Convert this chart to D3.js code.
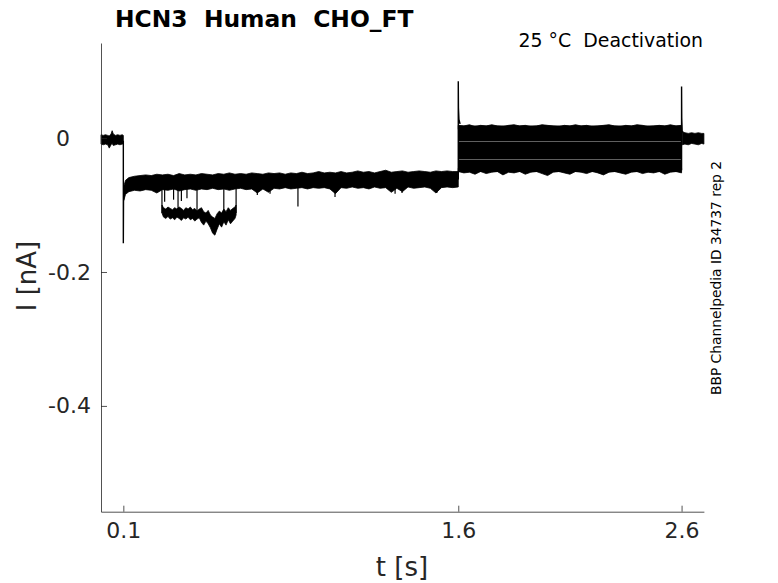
<!DOCTYPE html>
<html>
<head>
<meta charset="utf-8">
<script src="https://cdn.jsdelivr.net/npm/d3@7"></script>
<style>
  body { margin: 0; background: #fff; }
  text { font-family: "DejaVu Sans", sans-serif; white-space: pre; }
</style>
</head>
<body>
<div id="chart"></div>
<script>
var w = 778, h = 583;

// axis ticks
var xTicks = [0.1, 1.6, 2.6];
var yTicks = [0, -0.2, -0.4];
var yTickLabels = ["0   ", "-0.2", "-0.4"];

// holding level before the step (t, min, max in nA)
var baseT  = [0, 0.01, 0.02, 0.03, 0.037, 0.045, 0.05, 0.055, 0.065, 0.075, 0.085, 0.095, 0.1];
var baseHi = [0.005, 0.004, 0.005, 0.004, 0.003, 0.006, 0.011, 0.006, 0.004, 0.005, 0.004, 0.005, 0.004];
var baseLo = [-0.009, -0.010, -0.009, -0.010, -0.015, -0.010, -0.008, -0.011, -0.010, -0.009, -0.010, -0.009, -0.009];

// activating step, all sweeps overlap (envelope)
var stepT = [0.102, 0.11, 0.125, 0.15, 0.175, 0.2, 0.225, 0.25, 0.275, 0.3,
             0.325, 0.35, 0.375, 0.4, 0.425, 0.45, 0.475, 0.5, 0.525, 0.55,
             0.575, 0.6, 0.625, 0.65, 0.675, 0.7, 0.725, 0.75, 0.775, 0.8,
             0.825, 0.85, 0.875, 0.9, 0.925, 0.95, 0.975, 1.0, 1.025, 1.05,
             1.075, 1.1, 1.125, 1.15, 1.175, 1.2, 1.225, 1.25, 1.275, 1.3,
             1.325, 1.35, 1.375, 1.4, 1.425, 1.45, 1.475, 1.5, 1.525, 1.55,
             1.575, 1.6];
var stepHi = [-0.072, -0.063, -0.059, -0.057, -0.056, -0.055, -0.056, -0.054, -0.055, -0.054,
              -0.056, -0.053, -0.055, -0.054, -0.055, -0.053, -0.054, -0.055, -0.053, -0.054,
              -0.052, -0.054, -0.053, -0.054, -0.052, -0.053, -0.054, -0.052, -0.053, -0.052,
              -0.054, -0.052, -0.053, -0.051, -0.053, -0.052, -0.050, -0.052, -0.051, -0.052,
              -0.050, -0.052, -0.051, -0.049, -0.051, -0.050, -0.052, -0.050, -0.048, -0.051,
              -0.050, -0.049, -0.051, -0.050, -0.049, -0.050, -0.051, -0.049, -0.050, -0.049,
              -0.050, -0.050];
var stepLo = [-0.093, -0.084, -0.080, -0.078, -0.079, -0.077, -0.078, -0.082, -0.077, -0.078,
              -0.076, -0.079, -0.077, -0.076, -0.078, -0.076, -0.077, -0.075, -0.077, -0.076,
              -0.078, -0.076, -0.075, -0.077, -0.076, -0.082, -0.076, -0.081, -0.075, -0.076,
              -0.074, -0.076, -0.075, -0.074, -0.076, -0.074, -0.075, -0.074, -0.076, -0.083,
              -0.074, -0.075, -0.073, -0.075, -0.074, -0.076, -0.073, -0.075, -0.074, -0.081,
              -0.075, -0.080, -0.073, -0.075, -0.074, -0.073, -0.075, -0.082, -0.074, -0.073,
              -0.074, -0.073];

// one sweep dropping to a lower level early in the step
var burstT = [0.273, 0.28, 0.29, 0.30, 0.31, 0.32, 0.33, 0.34, 0.35, 0.36,
              0.37, 0.38, 0.39, 0.40, 0.41, 0.42, 0.43, 0.44, 0.45, 0.46,
              0.47, 0.48, 0.49, 0.50, 0.51, 0.52, 0.53, 0.54, 0.55, 0.56,
              0.57, 0.58, 0.59, 0.60, 0.605];
var burstHi = [-0.100, -0.104, -0.106, -0.103, -0.105, -0.107, -0.104, -0.106, -0.103, -0.105,
               -0.108, -0.104, -0.106, -0.103, -0.107, -0.105, -0.109, -0.106, -0.104, -0.110,
               -0.112, -0.108, -0.115, -0.118, -0.120, -0.113, -0.109, -0.112, -0.106, -0.110,
               -0.104, -0.108, -0.105, -0.103, -0.100];
var burstLo = [-0.112, -0.118, -0.120, -0.117, -0.121, -0.119, -0.122, -0.118, -0.120, -0.123,
               -0.119, -0.121, -0.118, -0.122, -0.120, -0.124, -0.121, -0.119, -0.126, -0.130,
               -0.124, -0.128, -0.134, -0.142, -0.145, -0.136, -0.128, -0.133, -0.125, -0.130,
               -0.122, -0.128, -0.124, -0.120, -0.115];

// short transients below the step band
var spikeT = [0.285, 0.325, 0.36, 0.385, 0.70, 0.757, 0.882, 1.048, 1.317, 1.348, 1.504];
var spikeV = [-0.095, -0.092, -0.094, -0.090, -0.085, -0.083, -0.102, -0.088, -0.083, -0.082, -0.082];
var jumpT  = [0.273, 0.345, 0.43, 0.55, 0.605];

// tail step: one level per sweep, plus outer envelope
var tailLevels = [0.013, 0.009, 0.005, 0.0007, -0.0113, -0.016, -0.021, -0.0258, -0.0378, -0.042, -0.045];
var tailHi = [0.019, 0.018, 0.020, 0.017, 0.019, 0.018, 0.020, 0.018, 0.017, 0.019,
              0.020, 0.018, 0.019, 0.017, 0.018, 0.020, 0.019, 0.018, 0.017, 0.019,
              0.018, 0.020, 0.018, 0.019, 0.017, 0.018, 0.019, 0.020, 0.018, 0.017,
              0.019, 0.018, 0.020, 0.019, 0.017, 0.018, 0.019, 0.018, 0.020, 0.018,
              0.019];
var tailLo = [-0.050, -0.052, -0.051, -0.054, -0.050, -0.053, -0.051, -0.050, -0.055, -0.051,
              -0.052, -0.050, -0.054, -0.051, -0.050, -0.053, -0.056, -0.051, -0.050, -0.052,
              -0.054, -0.050, -0.051, -0.053, -0.050, -0.052, -0.055, -0.051, -0.050, -0.052,
              -0.054, -0.051, -0.050, -0.053, -0.051, -0.052, -0.050, -0.054, -0.051, -0.050,
              -0.052];
var tailT = d3.range(tailHi.length).map(function(i) { return 1.6 + i * 0.025; });

// back at holding level
var postT  = [2.603, 2.615, 2.63, 2.645, 2.66, 2.675, 2.69, 2.7];
var postHi = [0.010, 0.008, 0.007, 0.008, 0.007, 0.008, 0.007, 0.007];
var postLo = [-0.010, -0.009, -0.010, -0.008, -0.009, -0.010, -0.008, -0.009];

// capacitive transients at the voltage steps
var edges = [
  {t: [0.1, 0.1, 0.1008, 0.102],             v: [-0.004, -0.157, -0.095, -0.085]},
  {t: [1.6, 1.6, 1.6008, 1.603, 1.608],      v: [-0.062, 0.085, 0.045, 0.028, 0.021]},
  {t: [2.6, 2.6, 2.6008, 2.603],             v: [-0.048, 0.077, 0.030, 0.008]}
];

var svg = d3.select("#chart").append("svg")
  .attr("width", w)
  .attr("height", h)
  .style("background", "white");

var x = d3.scaleLinear().domain([0, 2.7]).range([101, 703.9]);
var y = d3.scaleLinear().domain([-0.558, 0.142]).range([511.7, 43]);

function rows(t, lo, hi) {
  return t.map(function(d, i) { return {t: d, lo: lo[i], hi: hi[i]}; });
}

var band = d3.area()
  .x(function(d) { return x(d.t); })
  .y0(function(d) { return y(d.lo); })
  .y1(function(d) { return y(d.hi); });

var line = d3.line()
  .x(function(d) { return x(d[0]); })
  .y(function(d) { return y(d[1]); });

var traces = svg.append("g");

function drawBand(data) {
  traces.append("path")
    .attr("d", band(data))
    .attr("fill", "black")
    .attr("stroke", "black")
    .attr("stroke-width", 0.8);
}

drawBand(rows(baseT, baseLo, baseHi));
drawBand(rows(stepT, stepLo, stepHi));
drawBand(rows(burstT, burstLo, burstHi));
drawBand(rows(postT, postLo, postHi));

// tail sweeps
var noise = 0.0058;
tailLevels.forEach(function(lv) {
  traces.append("path")
    .attr("d", band(tailT.map(function(t) { return {t: t, lo: lv - noise, hi: lv + noise}; })))
    .attr("fill", "black");
});
drawBand(tailT.map(function(t, i) { return {t: t, lo: tailLevels[0], hi: tailHi[i]}; }));
drawBand(tailT.map(function(t, i) { return {t: t, lo: tailLo[i], hi: tailLevels[tailLevels.length - 1]}; }));

// transients
spikeT.forEach(function(t, i) {
  traces.append("path")
    .attr("d", line([[t, -0.072], [t, spikeV[i]]]))
    .attr("stroke", "black").attr("stroke-width", 1.2).attr("fill", "none");
});
jumpT.forEach(function(t) {
  traces.append("path")
    .attr("d", line([[t, -0.074], [t, -0.112]]))
    .attr("stroke", "black").attr("stroke-width", 1.2).attr("fill", "none");
});
edges.forEach(function(e) {
  traces.append("path")
    .attr("d", line(e.t.map(function(t, i) { return [t, e.v[i]]; })))
    .attr("stroke", "black").attr("stroke-width", 1.4).attr("fill", "none");
});

// axes
var axisColor = "#262626";

var gx = svg.append("g")
  .attr("transform", "translate(0," + y.range()[0] + ")")
  .call(d3.axisBottom(x).tickValues(xTicks).tickSize(-6).tickSizeOuter(0).tickPadding(11)
    .tickFormat(d3.format(".1f")));

var gy = svg.append("g")
  .attr("transform", "translate(" + x.range()[0] + ",0)")
  .call(d3.axisLeft(y).tickValues(yTicks).tickSize(-6).tickSizeOuter(0).tickPadding(10)
    .tickFormat(function(d, i) { return yTickLabels[i]; }));

[gx, gy].forEach(function(g) {
  g.select(".domain").attr("stroke", axisColor).attr("stroke-width", 0.8);
  g.selectAll(".tick line").attr("stroke", axisColor).attr("stroke-width", 0.8);
  g.selectAll(".tick text")
    .attr("fill", axisColor)
    .style("font-size", "22px")
    .style("font-family", "'DejaVu Sans', sans-serif")
    .style("white-space", "pre");
});

// labels
svg.append("text")
  .attr("x", 402).attr("y", 576)
  .attr("text-anchor", "middle")
  .attr("fill", axisColor)
  .style("font-size", "26px")
  .text("t [s]");

svg.append("text")
  .attr("transform", "translate(36,276) rotate(-90)")
  .attr("text-anchor", "middle")
  .attr("fill", axisColor)
  .style("font-size", "26px")
  .text("I [nA]");

svg.append("text")
  .attr("x", 115).attr("y", 27)
  .attr("fill", "black")
  .style("font-size", "23.4px")
  .style("font-weight", "bold")
  .text("HCN3  Human  CHO_FT");

svg.append("text")
  .attr("x", 703).attr("y", 47)
  .attr("text-anchor", "end")
  .attr("fill", "black")
  .style("font-size", "18.9px")
  .text("25 °C  Deactivation");

svg.append("text")
  .attr("transform", "translate(721,278) rotate(-90)")
  .attr("text-anchor", "middle")
  .attr("fill", "black")
  .style("font-size", "13.8px")
  .text("BBP Channelpedia ID 34737 rep 2");
</script>
</body>
</html>
